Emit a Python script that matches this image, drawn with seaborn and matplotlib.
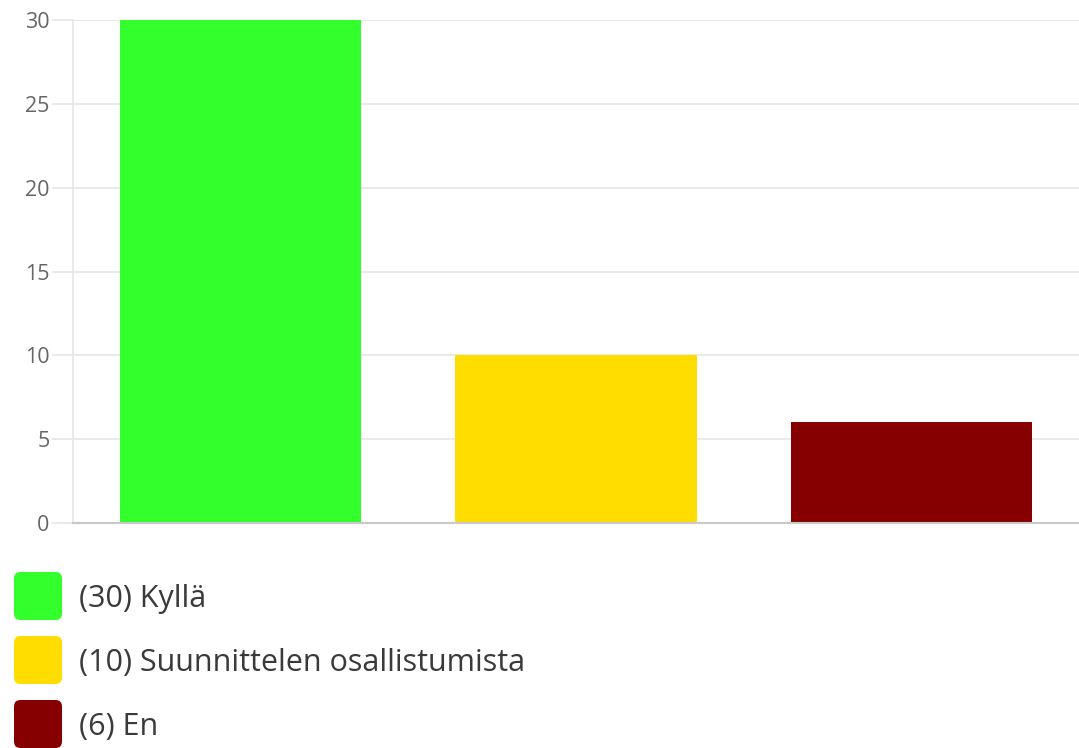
import matplotlib
matplotlib.use("Agg")
import matplotlib.pyplot as plt
import seaborn as sns
import pandas as pd
from matplotlib.patches import FancyBboxPatch

categories = ["Kyllä", "Suunnittelen osallistumista", "En"]
values = [30, 10, 6]
colors = ["#33ff2c", "#ffdd00", "#870000"]
yticks = [0, 5, 10, 15, 20, 25, 30]

sns.set_theme(style="white")
plt.rcParams['font.family'] = ['Open Sans', 'DejaVu Sans']

W, H = 1079, 748
fig = plt.figure(figsize=(W / 100, H / 100), dpi=100)
ax = fig.add_axes([73 / W, 1 - 523 / H, 1 - 73 / W, (523 - 20) / H])

df = pd.DataFrame({"cat": categories, "val": values})
sns.barplot(data=df, x="cat", y="val", hue="cat", palette=colors, legend=False,
            width=0.72, ax=ax, saturation=1, edgecolor="none", zorder=3)

ax.set_ylim(0, 30)
ax.set_xlim(-0.5, 2.5)
ax.set_yticks(yticks)
ax.set_yticklabels([str(t) for t in yticks], color="#666666", fontsize=15.5)
ax.set_xticks([])
ax.set_xlabel("")
ax.set_ylabel("")
ax.yaxis.grid(True, color="#e6e6e6", linewidth=1.2, zorder=0)
ax.tick_params(axis="y", length=15, width=1.2, color="#e6e6e6", pad=2, left=True)
for s in ["top", "right"]:
    ax.spines[s].set_visible(False)
ax.spines["left"].set_color("#e6e6e6")
ax.spines["left"].set_linewidth(1.2)
ax.spines["bottom"].set_color("#c8c8c8")
ax.spines["bottom"].set_linewidth(1.5)
ax.spines["bottom"].set_zorder(4)

# legend below
for i, (c, v, col) in enumerate(zip(categories, values, colors)):
    yc = 596 + i * 64
    box = FancyBboxPatch((14 / W, 1 - (yc + 24) / H), 48 / W, 48 / H,
                         boxstyle="round,pad=0,rounding_size=0.006",
                         transform=fig.transFigure, facecolor=col, edgecolor="none",
                         mutation_aspect=W / H)
    fig.add_artist(box)
    fig.text(79 / W, 1 - (yc + 3) / H, f"({v}) {c}", fontsize=22, color="#3a3a3a",
             va="center", ha="left")

fig.savefig("out.png", dpi=100)
